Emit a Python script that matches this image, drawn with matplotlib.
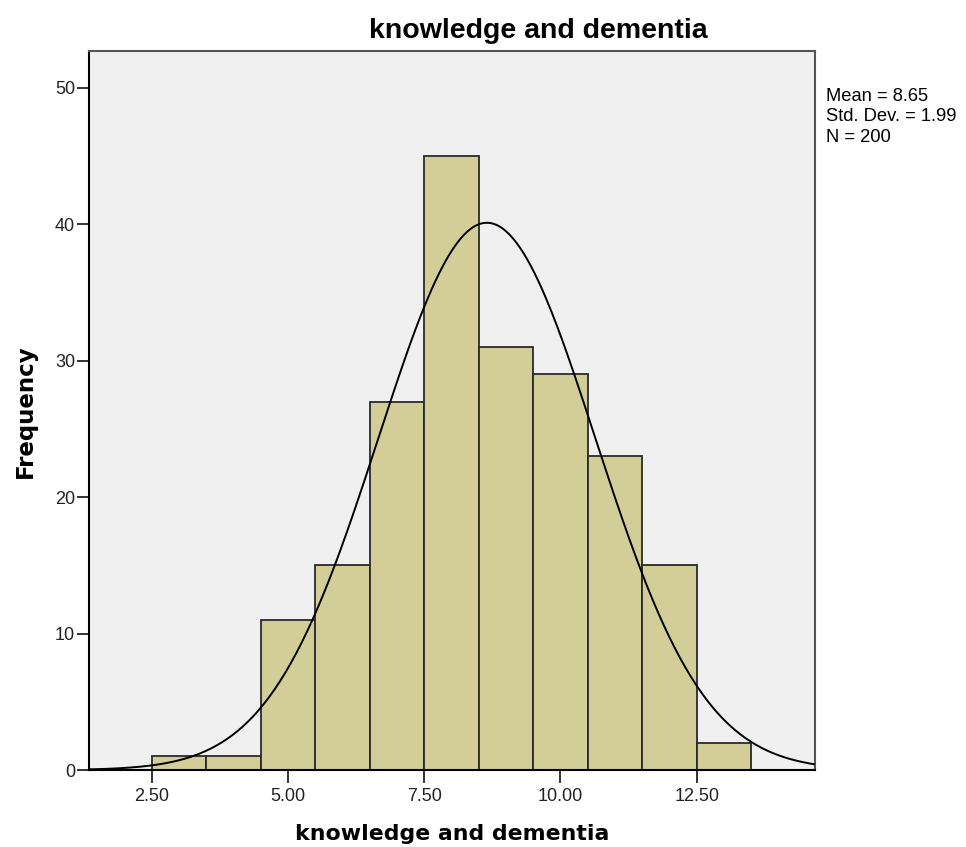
import numpy as np
import matplotlib
matplotlib.use('Agg')
import matplotlib.pyplot as plt

plt.rcParams['font.family'] = ['Liberation Sans', 'DejaVu Sans']

# histogram data (bin centres, counts)
bin_centers = [3, 4, 5, 6, 7, 8, 9, 10, 11, 12, 13]
counts = [1, 1, 11, 15, 27, 45, 31, 29, 23, 15, 2]
mean = 8.65
sd = 1.99
n = 200
bin_width = 1.0
xticks = [2.5, 5.0, 7.5, 10.0, 12.5]
yticks = [0, 10, 20, 30, 40, 50]

fig = plt.figure(figsize=(9.66, 8.47), dpi=100)
ax = fig.add_axes([0.0921, 0.0909, 0.7516, 0.8492])
ax.set_facecolor('#f0f0f0')

ax.bar(bin_centers, counts, width=bin_width, color='#d3ce97',
       edgecolor='#2a2a2a', linewidth=1.3, zorder=2)

xs = np.linspace(1.35, 14.67, 400)
ys = n * bin_width / (sd * np.sqrt(2 * np.pi)) * np.exp(-0.5 * ((xs - mean) / sd) ** 2)
ax.plot(xs, ys, color='black', linewidth=1.4, zorder=3)

ax.set_xlim(1.35, 14.67)
ax.set_ylim(0, 52.7)
ax.set_xticks(xticks)
ax.set_xticklabels(['%.2f' % t for t in xticks])
ax.set_yticks(yticks)
ax.tick_params(direction='out', length=9, width=1.3, labelsize=13, colors='#222222')
ax.tick_params(axis='y', pad=1)
ax.tick_params(axis='x', pad=4)

for s in ['left', 'bottom']:
    ax.spines[s].set_color('black')
    ax.spines[s].set_linewidth(1.5)
for s in ['top', 'right']:
    ax.spines[s].set_color('#555555')
    ax.spines[s].set_linewidth(1.5)

# title sits a bit right of the axes centre, like the original
fig.text(538.5 / 966, 1 - 37.5 / 847, 'knowledge and dementia', fontsize=20.5,
         fontweight='bold', ha='center', va='baseline')
fig.text(452 / 966, 1 - 840 / 847, 'knowledge and dementia', fontsize=15.8,
         fontweight='bold', family='DejaVu Sans', ha='center', va='baseline')
fig.text(25 / 966, 1 - 411 / 847, 'Frequency', fontsize=16.5, fontweight='bold',
         family='DejaVu Sans', rotation=90, ha='center', va='center')

fig.text(826 / 966, 1 - 88 / 847,
         'Mean = %.2f\nStd. Dev. = %.2f\nN = %d' % (mean, sd, n),
         fontsize=13.2, va='top', ha='left', linespacing=1.25)

fig.savefig('out.png', dpi=100)
